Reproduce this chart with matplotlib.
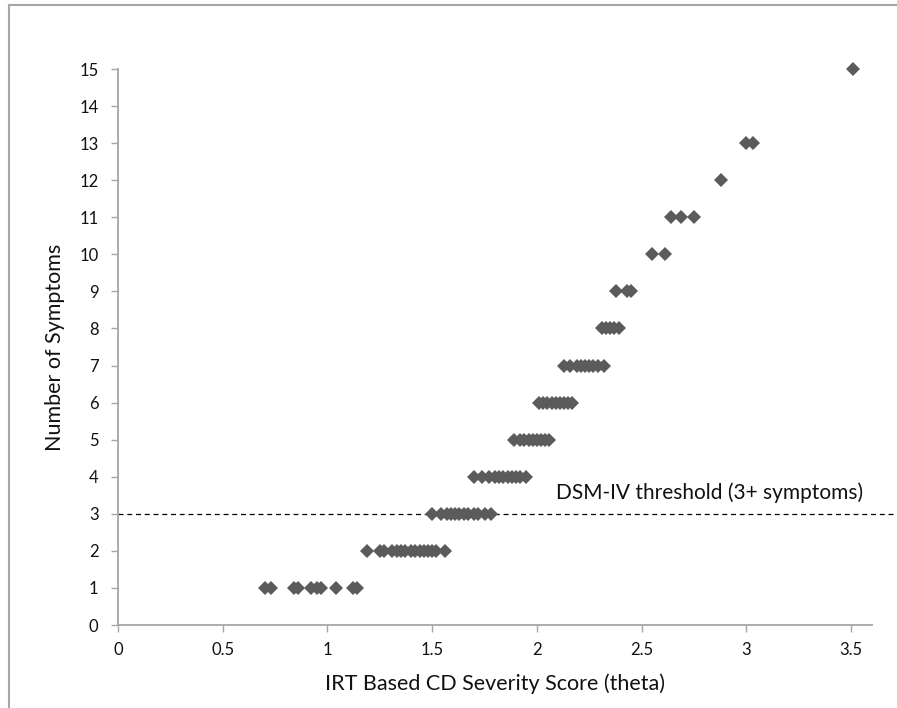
import matplotlib.pyplot as plt
from matplotlib.lines import Line2D

# theta values for each number of symptoms
theta_by_count = {
    1: [0.70, 0.73, 0.84, 0.86, 0.92, 0.95, 0.97, 1.04, 1.12, 1.14],
    2: [1.19, 1.25, 1.27, 1.31, 1.33, 1.35, 1.37, 1.40, 1.42, 1.44, 1.46,
        1.48, 1.50, 1.52, 1.56],
    3: [1.50, 1.54, 1.57, 1.59, 1.61, 1.63, 1.65, 1.67, 1.70, 1.72, 1.75, 1.78],
    4: [1.70, 1.74, 1.77, 1.80, 1.82, 1.84, 1.86, 1.88, 1.90, 1.92, 1.95],
    5: [1.89, 1.92, 1.94, 1.96, 1.98, 2.00, 2.02, 2.04, 2.06],
    6: [2.01, 2.03, 2.05, 2.07, 2.09, 2.11, 2.13, 2.15, 2.17],
    7: [2.13, 2.16, 2.19, 2.21, 2.23, 2.25, 2.27, 2.29, 2.32],
    8: [2.31, 2.33, 2.35, 2.37, 2.39],
    9: [2.38, 2.43, 2.45],
    10: [2.55, 2.61],
    11: [2.64, 2.69, 2.75],
    12: [2.88],
    13: [3.00, 3.03],
    15: [3.51],
}
x_ticks = [0, 0.5, 1, 1.5, 2, 2.5, 3, 3.5]
x_tick_labels = ["0", "0.5", "1", "1.5", "2", "2.5", "3", "3.5"]
y_ticks = list(range(0, 16))
threshold = 3

plt.rcParams['font.family'] = ['Lato', 'DejaVu Sans']

fig = plt.figure(figsize=(8.97, 7.08), dpi=100)
ax = fig.add_axes([0.1316, 0.1172, 0.9721 - 0.1316, 0.9025 - 0.1172])

xs, ys = [], []
for count, thetas in theta_by_count.items():
    xs.extend(thetas)
    ys.extend([count] * len(thetas))
ax.plot(xs, ys, linestyle='none', marker='D', markersize=7,
        color='#5b5b5b', markeredgewidth=0, clip_on=False, zorder=3)

# DSM-IV threshold line, runs past the axis to the edge of the picture
ax.plot([0, 1.04], [threshold, threshold], transform=ax.get_yaxis_transform(),
        color='black', linestyle=(0, (4, 3)), linewidth=0.9, clip_on=False)
ax.text(2.09, threshold + 0.3, "DSM-IV threshold (3+ symptoms)",
        fontsize=15, color='#111111', va='bottom', ha='left')

ax.set_xlim(0, 3.6)
ax.set_ylim(0, 15)
ax.set_xticks(x_ticks)
ax.set_xticklabels(x_tick_labels)
ax.set_yticks(y_ticks)

for side in ['top', 'right']:
    ax.spines[side].set_visible(False)
for side in ['left', 'bottom']:
    ax.spines[side].set_color('#a6a6a6')
    ax.spines[side].set_linewidth(1.3)
ax.tick_params(axis='both', colors='#a6a6a6', labelcolor='#111111',
               labelsize=12, length=5, width=1.0, direction='out')
ax.tick_params(axis='x', pad=7)
ax.tick_params(axis='y', pad=9)

ax.set_xlabel("IRT Based CD Severity Score (theta)", fontsize=15.5,
              color='#111111', labelpad=11)
ax.set_ylabel("Number of Symptoms", fontsize=15.5, color='#111111',
              labelpad=10)

# outer frame of the chart area (only top and left show in the picture)
fig.add_artist(Line2D([0.0105, 1.0], [0.993, 0.993], transform=fig.transFigure,
                      color='#a6a6a6', linewidth=1.5))
fig.add_artist(Line2D([0.0105, 0.0105], [0.0, 0.993], transform=fig.transFigure,
                      color='#a6a6a6', linewidth=1.5))

fig.savefig("out.png", dpi=100, facecolor='white')
